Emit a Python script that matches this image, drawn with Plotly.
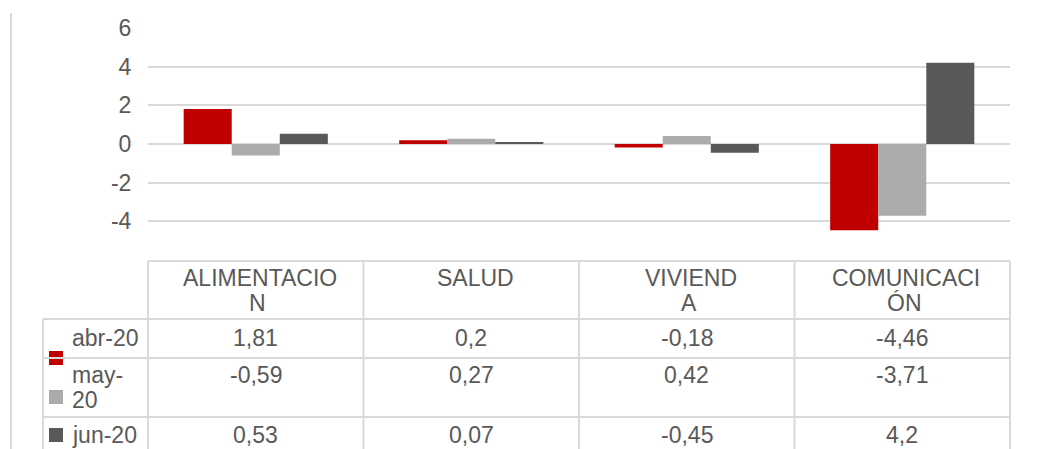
import plotly.graph_objects as go

# ---- data ----
categories = ["ALIMENTACION", "SALUD", "VIVIENDA", "COMUNICACIÓN"]
header_labels = ["ALIMENTACIO<br>N", "SALUD", "VIVIEND<br>A", "COMUNICACI<br>ÓN"]
series_names = ["abr-20", "may-20", "jun-20"]
legend_labels = ["abr-20", "may-<br>20", "jun-20"]
abr_20 = [1.81, 0.2, -0.18, -4.46]
may_20 = [-0.59, 0.27, 0.42, -3.71]
jun_20 = [0.53, 0.07, -0.45, 4.2]
series_values = [abr_20, may_20, jun_20]
colors = ["#C00000", "#ABABAB", "#595959"]
y_ticks = [-6, -4, -2, 0, 2, 4, 6]
y_tick_labels = ["", "-4", "-2", "0", "2", "4", "6"]

W, H = 1041, 449
OFF = 8  # page body margin compensation
FONT = "Arial, Liberation Sans, sans-serif"
TXT = "#595959"
GRID = "#D9D9D9"
FS = 23


def px_x(p):
    return (p - OFF) / W


def px_y(p):
    return 1 - (p - OFF) / H


plot_left, plot_right = 148, 1010
plot_top, plot_bottom = 28, 260

fig = go.Figure()
for name, vals, col in zip(series_names, series_values, colors):
    fig.add_trace(go.Bar(x=categories, y=vals, name=name, marker=dict(color=col, line=dict(width=0)),
                         showlegend=False))

shapes = []
annotations = []

# chart frame left border
shapes.append(dict(type="line", xref="paper", yref="paper", x0=px_x(11), x1=px_x(11),
                   y0=px_y(13), y1=0, line=dict(color=GRID, width=2)))

# legend swatches (drawn before table lines)
sw_tops = [351, 390, 428]
for col, t in zip(colors, sw_tops):
    shapes.append(dict(type="rect", xref="paper", yref="paper", x0=px_x(49), x1=px_x(63),
                       y0=px_y(t), y1=px_y(t + 14), fillcolor=col, line=dict(width=0)))

# table lines
col_edges = [148, 363.5, 579, 794.5, 1010]
shapes.append(dict(type="line", xref="paper", yref="paper", x0=px_x(148), x1=px_x(1010),
                   y0=px_y(261), y1=px_y(261), line=dict(color=GRID, width=2)))
for ex in col_edges:
    shapes.append(dict(type="line", xref="paper", yref="paper", x0=px_x(ex), x1=px_x(ex),
                       y0=px_y(261), y1=0, line=dict(color=GRID, width=2)))
for ry in [319, 358, 417]:
    shapes.append(dict(type="line", xref="paper", yref="paper", x0=px_x(43), x1=px_x(1010),
                       y0=px_y(ry), y1=px_y(ry), line=dict(color=GRID, width=2)))
shapes.append(dict(type="line", xref="paper", yref="paper", x0=px_x(43), x1=px_x(43),
                   y0=px_y(319), y1=0, line=dict(color=GRID, width=2)))

# header labels
for cat, lab in zip(categories, header_labels):
    for i, line in enumerate(lab.split("<br>")):
        annotations.append(dict(x=cat, xref="x", y=px_y(278 + 25 * i), yref="paper",
                                text=line, showarrow=False, xanchor="center", yanchor="middle",
                                xshift=4 if i == 0 else 2,
                                font=dict(family=FONT, size=FS, color=TXT)))

# value rows
row_y = [338, 375, 435]
for vals, ry in zip(series_values, row_y):
    for cat, v in zip(categories, vals):
        annotations.append(dict(x=cat, xref="x", y=px_y(ry), yref="paper",
                                text=f"{v:g}".replace(".", ","), showarrow=False,
                                xanchor="center", yanchor="middle",
                                font=dict(family=FONT, size=FS, color=TXT)))

# legend labels
for lab, ry in zip(legend_labels, row_y):
    for i, line in enumerate(lab.split("<br>")):
        annotations.append(dict(x=px_x(70), xref="paper", y=px_y(ry + 25 * i), yref="paper",
                                text=line, showarrow=False, xanchor="left", yanchor="middle",
                                font=dict(family=FONT, size=FS, color=TXT)))

fig.update_layout(
    width=W, height=H,
    margin=dict(l=0, r=0, t=0, b=0, pad=0),
    paper_bgcolor="white", plot_bgcolor="white",
    barmode="group", bargap=0.331, bargroupgap=0,
    showlegend=False,
    xaxis=dict(domain=[px_x(plot_left), px_x(plot_right)], showticklabels=False, showgrid=False,
               zeroline=False, showline=False, ticks="", automargin=False),
    yaxis=dict(domain=[px_y(plot_bottom), px_y(plot_top)], range=[-6, 6], tickvals=y_ticks,
               ticktext=y_tick_labels, showgrid=True, gridcolor=GRID, gridwidth=1.5,
               zeroline=True, zerolinecolor=GRID, zerolinewidth=1.5, showline=False,
               ticks="outside", ticklen=11, tickcolor="rgba(0,0,0,0)", automargin=False,
               tickfont=dict(family=FONT, size=FS, color=TXT)),
    shapes=shapes,
    annotations=annotations,
    font=dict(family=FONT, color=TXT),
)

fig.write_html("out.html")
